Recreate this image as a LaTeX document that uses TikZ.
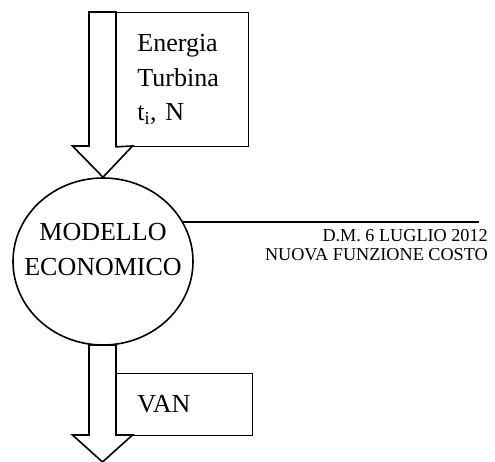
\documentclass[tikz,border=0pt]{standalone}
\usepackage{fontspec}
\setmainfont{Liberation Serif}
\usetikzlibrary{shapes.geometric}
\tikzstyle{databox} = [rectangle, draw=black, line width=0.8pt, anchor=north west, align=left, inner xsep=21pt, inner ysep=0pt, font=\fontsize{26}{34.5}\selectfont]
\tikzstyle{model} = [ellipse, draw=black, line width=1.6pt, minimum width=180pt, minimum height=167pt, inner sep=0pt]
\tikzstyle{bigtext} = [align=center, inner sep=0pt, font=\fontsize{26}{35}\selectfont]
\tikzstyle{smalltext} = [align=right, inner sep=0pt, anchor=north east, font=\fontsize{18.2}{19}\selectfont]
\tikzstyle{blockarrow} = [draw=black, line width=1.6pt, line join=miter]

\begin{document}
\begin{tikzpicture}[x=1pt, y=-1pt]

        \useasboundingbox (0,0) rectangle (495,462);

        % Nodes for input, model and output
        \node (energia) [databox, text width=90pt, minimum height=134pt] at (116,12) {Energia\\Turbina\\t\textsubscript{i}, N};
        \node (modello) [model] at (103,261.5) {};
        \node (modellotext) [bigtext] at ([yshift=11.5pt]modello.center) {MODELLO\\ECONOMICO};
        \node (van) [databox, text width=94pt, minimum height=62pt] at (116,373) {VAN};

        % Cost function note
        \coordinate (costoend) at (479,223);
        \node (costo) [smalltext] at (488,229) {D.M. 6 LUGLIO 2012\\NUOVA FUNZIONE COSTO};
        \draw [line width=1.6pt] (modello.26) -- (modello.26 -| costoend);

        % Block arrow into the model
        \draw [blockarrow] (89,12) -- (energia.north west) -- (energia.south west) -- (132.5,146) -- (modello.north) -- (72.5,146) -- (89,146) -- cycle;

        % Block arrow out of the model
        \draw [blockarrow] (89,345) -- (116,345) -- (116,435) -- (132.5,435) -- (102.5,462) -- (72.5,435) -- (89,435) -- cycle;

    \end{tikzpicture}
\end{document}
